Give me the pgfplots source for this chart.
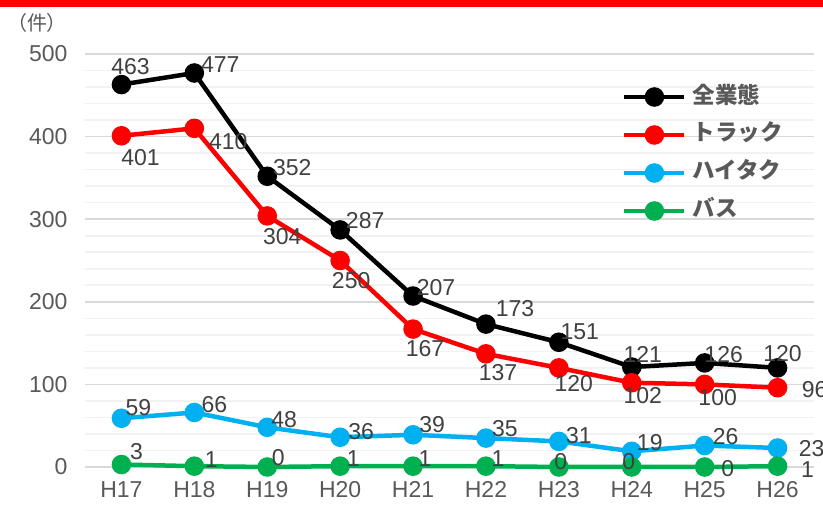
\documentclass[border=0pt]{standalone}
\usepackage{pgfplots}
\usepackage{pgfplotstable}
\pgfplotsset{compat=1.18}
\usepackage{fontspec}
\setmainfont{Liberation Sans}
\newfontfamily\cjk{Noto Sans CJK JP}

\definecolor{cAll}{HTML}{000000}
\definecolor{cTruck}{HTML}{FF0000}
\definecolor{cTaxi}{HTML}{00B0F0}
\definecolor{cBus}{HTML}{00B050}
\definecolor{tickgray}{HTML}{595959}
\definecolor{labelgray}{HTML}{404040}
\definecolor{majgrid}{HTML}{D9D9D9}
\definecolor{mingrid}{HTML}{F2F2F2}

% x: year index (H17 = 0), y: count, dx/dy: label offset
\pgfplotstableread{
x y dx dy
0 463 9 18
1 477 26 8
2 352 25 9
3 287 25 9
4 207 23 8
5 173 29 16
6 151 21 11
7 121 11 13
8 126 19 8
9 120 5 14
}\tblAll
\pgfplotstableread{
x y dx dy
0 401 19 -22
1 410 34 -13
2 304 15 -21
3 250 11 -20
4 167 12 -20
5 137 12 -19
6 120 15 -16
7 102 11 -13
8 100 13 -13
9 96 37 -2
}\tblTruck
\pgfplotstableread{
x y dx dy
0 59 17 11
1 66 20 8
2 48 17 8
3 36 21 6
4 39 19 10
5 35 19 10
6 31 20 6
7 19 18 9
8 26 21 9
9 23 34 -1
}\tblTaxi
\pgfplotstableread{
x y dx dy
0 3 15 13
1 1 17 7
2 0 11 9
3 1 13 8
4 1 12 8
5 1 12 8
6 0 2 5
7 0 -3 5
8 0 23 -2
9 1 30 -3
}\tblBus

\begin{document}
\begin{tikzpicture}[x=1pt,y=1pt]
\fill[cTruck] (0,504) rectangle (823,511);
\node[font=\cjk\fontsize{20}{20}\selectfont, text=tickgray] at (37,488) {（件）};
\begin{axis}[
  at={(85pt,44pt)}, anchor=south west,
  scale only axis, width=729pt, height=413pt,
  xmin=-0.5, xmax=9.5, ymin=0, ymax=500,
  clip=false,
  xtick={0,...,9},
  xticklabels={H17,H18,H19,H20,H21,H22,H23,H24,H25,H26},
  ytick={0,100,...,500},
  minor y tick num=4,
  major tick length=0pt, minor tick length=0pt,
  ymajorgrids, yminorgrids,
  major grid style={majgrid, line width=1.6pt},
  minor grid style={mingrid, line width=1.6pt},
  axis line style={draw=none},
  /pgf/number format/assume math mode=true,
  ticklabel style={font=\fontsize{23}{23}\selectfont, text=tickgray},
  yticklabel style={xshift=-14pt},
  xticklabel style={yshift=-11pt},
  every axis plot/.append style={line width=4.5pt, mark=*, mark size=7.5pt,
    mark options={line width=0pt}},
  nodes near coords,
  visualization depends on={\thisrow{dx}\as\dx},
  visualization depends on={\thisrow{dy}\as\dy},
  every node near coord/.append style={anchor=center, xshift=\dx pt, yshift=\dy pt,
    font=\fontsize{23}{23}\selectfont, text=labelgray, inner sep=0pt},
  legend style={at={(0.7366,0.923)}, anchor=north west, draw=none, fill=none,
    inner sep=0pt, row sep=16pt,
    nodes={inner sep=0pt, text height=17pt, text depth=5pt},
    font=\cjk\bfseries\fontsize{22.5}{22.5}\selectfont, text=tickgray,
    /tikz/every odd column/.append style={column sep=6pt}},
  legend cell align=left,
  legend image code/.code={
    \draw[#1, mark=none] (0pt,0pt) -- (60pt,0pt);
    \draw[#1, only marks] plot coordinates {(30pt,0pt)};
  },
]
\addplot[cAll, mark options={fill=cAll}] table[x=x,y=y] {\tblAll};
\addlegendentry{全業態}
\addplot[cTruck, mark options={fill=cTruck}] table[x=x,y=y] {\tblTruck};
\addlegendentry{トラック}
\addplot[cTaxi, mark options={fill=cTaxi}] table[x=x,y=y] {\tblTaxi};
\addlegendentry{ハイタク}
\addplot[cBus, mark options={fill=cBus}] table[x=x,y=y] {\tblBus};
\addlegendentry{バス}
\end{axis}
\pgfresetboundingbox
\path[use as bounding box] (0,0) rectangle (823,511);
\end{tikzpicture}
\end{document}
